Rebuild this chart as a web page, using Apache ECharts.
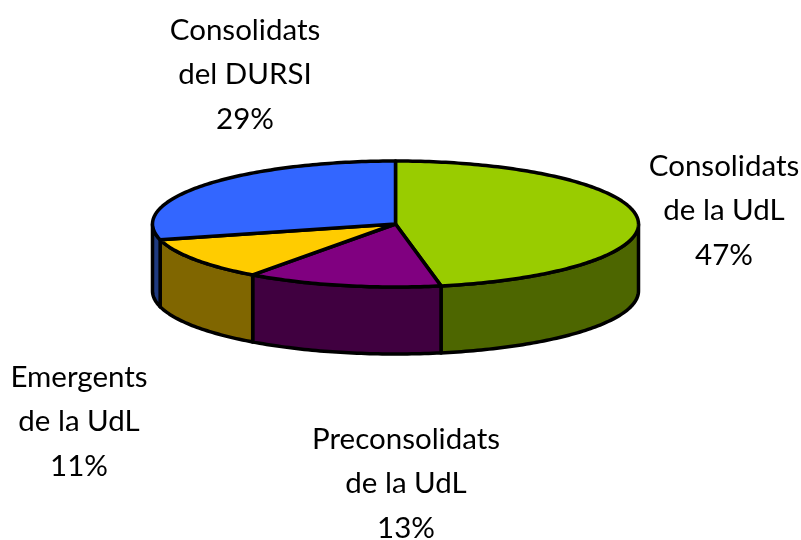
<!DOCTYPE html>
<html>
<head>
    <meta charset="utf-8">
    <title>Pie 3D</title>
    <style>
        html, body { margin: 0; background: #fff; }
        #chart { width: 801px; height: 540px; }
    </style>
</head>
<body>
<div id="chart"></div>
<script src="https://cdn.jsdelivr.net/npm/echarts@6/dist/echarts.min.js"></script>
<script>
    var names = ['Consolidats\nde la UdL', 'Preconsolidats\nde la UdL', 'Emergents\nde la UdL', 'Consolidats\ndel DURSI'];
    var values = [47, 13, 11, 29];
    var topColors = ['#99cc00', '#800080', '#ffcc00', '#3366ff'];
    var sideColors = ['#4d6600', '#400040', '#806600', '#1f3a80'];
    var labelX = [724, 406, 79, 245];
    var labelY = [210.5, 483.5, 421.5, 74.5];

    // pie disc, flattened
    var cx = 395.5, cy = 224, rx = 243, ry = 63, depth = 67;
    var total = values.reduce(function (a, b) { return a + b; }, 0);

    function point(deg, dy) {
        var r = deg * Math.PI / 180;
        return [cx + rx * Math.sin(r), cy - ry * Math.cos(r) + (dy || 0)];
    }

    function arc(from, to, dy) {
        var pts = [];
        var n = Math.max(2, Math.ceil(Math.abs(to - from)));
        for (var i = 0; i <= n; i++) {
            pts.push(point(from + (to - from) * i / n, dy));
        }
        return pts;
    }

    function renderItem(params, api) {
        var i = params.dataIndex;
        var before = 0;
        for (var k = 0; k < i; k++) before += values[k];
        var start = before / total * 360;
        var end = (before + api.value(0)) / total * 360;
        var children = [];

        // only the front half of the wall can be seen
        var a = Math.max(start, 90), b = Math.min(end, 270);
        if (b > a) {
            children.push({
                type: 'polygon',
                z2: 1,
                shape: { points: arc(a, b, 0).concat(arc(b, a, depth)) },
                style: { fill: sideColors[i], stroke: '#000', lineWidth: 3.5, lineJoin: 'round' }
            });
        }
        children.push({
            type: 'polygon',
            z2: 2,
            shape: { points: [[cx, cy]].concat(arc(start, end, 0)) },
            style: { fill: topColors[i], stroke: '#000', lineWidth: 3.5, lineJoin: 'round' }
        });
        children.push({
            type: 'text',
            z2: 3,
            style: {
                x: labelX[i],
                y: labelY[i],
                text: names[i] + '\n' + api.value(0) + '%',
                align: 'center',
                verticalAlign: 'middle',
                fontFamily: 'Lato',
                fontSize: 29.5,
                lineHeight: 44.5,
                fill: '#000'
            }
        });
        return { type: 'group', children: children };
    }

    var myChart = echarts.init(document.getElementById('chart'));
    myChart.setOption({
        animation: false,
        series: [{
            type: 'custom',
            coordinateSystem: 'none',
            renderItem: renderItem,
            data: values.map(function (v) { return [v]; })
        }]
    });
</script>
</body>
</html>
